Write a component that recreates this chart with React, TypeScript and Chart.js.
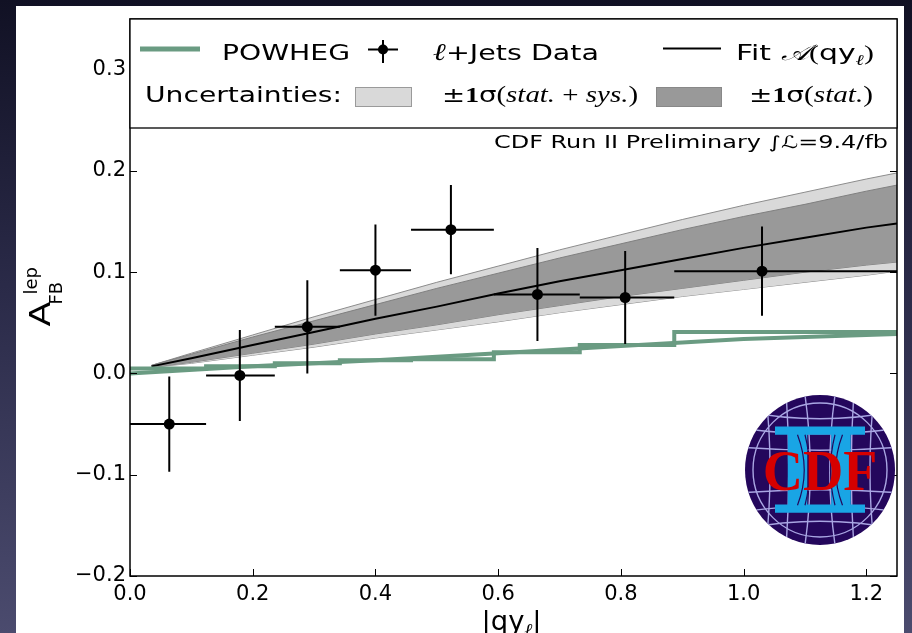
import React, { useEffect, useRef } from 'react';
import { Chart, registerables } from 'chart.js';
Chart.register(...registerables);

// ---------------- data ----------------
const XTICKS = [0, 0.2, 0.4, 0.6, 0.8, 1.0, 1.2];
const YTICKS = [-0.2, -0.1, 0.0, 0.1, 0.2, 0.3];
const BIN_EDGES = [0, 0.124, 0.236, 0.342, 0.458, 0.593, 0.733, 0.887, 1.25];
const DATA_X = [0.064, 0.179, 0.289, 0.4, 0.523, 0.664, 0.807, 1.03];
const DATA_Y = [-0.05, -0.002, 0.046, 0.102, 0.142, 0.078, 0.075, 0.101];
const DATA_ERR = [0.047, 0.045, 0.046, 0.045, 0.044, 0.046, 0.046, 0.044];
const POWHEG_BINS = [0.005, 0.007, 0.01, 0.013, 0.014, 0.021, 0.028, 0.041];
const POWHEG_CURVE_X = [0, 0.2, 0.4, 0.6, 0.8, 1.0, 1.25];
const POWHEG_CURVE_Y = [0.0, 0.007, 0.013, 0.02, 0.027, 0.034, 0.039];
const FIT_X = [0.035, 0.1, 0.2, 0.3, 0.4, 0.5, 0.6, 0.7, 0.8, 0.9, 1.0, 1.1, 1.2, 1.25];
const FIT_Y = [0.007, 0.015, 0.028, 0.041, 0.054, 0.066, 0.079, 0.091, 0.102, 0.113, 0.124, 0.134, 0.144, 0.148];
const STAT_UP = [0.008, 0.019, 0.036, 0.052, 0.068, 0.084, 0.099, 0.114, 0.128, 0.142, 0.155, 0.167, 0.18, 0.186];
const STAT_LO = [0.006, 0.011, 0.02, 0.029, 0.039, 0.048, 0.058, 0.067, 0.076, 0.084, 0.092, 0.1, 0.107, 0.11];
const TOT_UP = [0.008, 0.02, 0.038, 0.056, 0.073, 0.09, 0.106, 0.122, 0.137, 0.152, 0.166, 0.179, 0.192, 0.198];
const TOT_LO = [0.006, 0.01, 0.018, 0.026, 0.035, 0.043, 0.051, 0.06, 0.068, 0.076, 0.083, 0.09, 0.097, 0.101];

const GREEN = '#6a9b82';
const LIGHT = '#d9d9d9';
const DARK = '#999999';
const SANS = '"DejaVu Sans", sans-serif';
const SERIF = '"Liberation Serif", "DejaVu Serif", serif';

type Seg = { t: string; font: string; dy?: number; dx?: number };

function richWidth(ctx: CanvasRenderingContext2D, segs: Seg[]) {
  let w = 0;
  for (const s of segs) {
    ctx.font = s.font;
    w += ctx.measureText(s.t).width + (s.dx || 0);
  }
  return w;
}

function drawRich(ctx: CanvasRenderingContext2D, segs: Seg[], x: number, y: number, targetW?: number, align: string = 'left') {
  const w = richWidth(ctx, segs);
  const sx = targetW ? targetW / w : 1;
  ctx.save();
  ctx.translate(x, y);
  ctx.scale(sx, 1);
  let cx = align === 'center' ? -w / 2 : align === 'right' ? -w : 0;
  ctx.textBaseline = 'alphabetic';
  ctx.textAlign = 'left';
  ctx.fillStyle = '#000';
  for (const s of segs) {
    ctx.font = s.font;
    cx += s.dx || 0;
    ctx.fillText(s.t, cx, s.dy || 0);
    cx += ctx.measureText(s.t).width;
  }
  ctx.restore();
}

function fmt(v: number) {
  return (v < -1e-9 ? '\u2212' : '') + Math.abs(v).toFixed(1);
}

function drawLogo(ctx: CanvasRenderingContext2D, cx: number, cy: number, R: number) {
  ctx.save();
  ctx.beginPath();
  ctx.arc(cx, cy, R, 0, Math.PI * 2);
  ctx.fillStyle = '#24075c';
  ctx.fill();
  ctx.clip();
  ctx.strokeStyle = '#a9a6e3';
  ctx.lineWidth = 1.4;
  ctx.beginPath();
  ctx.arc(cx, cy, R - 8, 0, Math.PI * 2);
  ctx.stroke();
  const hs = [-0.78, -0.55, -0.3, 0.3, 0.55, 0.78];
  for (const d of hs) {
    ctx.beginPath();
    ctx.moveTo(cx - R, cy + d * R);
    ctx.quadraticCurveTo(cx, cy + d * R * 0.75, cx + R, cy + d * R);
    ctx.stroke();
  }
  const vs = [-0.72, -0.45, -0.2, 0.2, 0.45, 0.72];
  for (const d of vs) {
    ctx.beginPath();
    ctx.moveTo(cx + d * R, cy - R);
    ctx.quadraticCurveTo(cx + d * R * (Math.abs(d) < 0.3 ? 0.3 : 0.85), cy, cx + d * R, cy + R);
    ctx.stroke();
  }
  ctx.fillStyle = '#19a5e5';
  ctx.fillRect(cx - 0.6 * R, cy - 0.58 * R, 1.2 * R, 0.11 * R);
  ctx.fillRect(cx - 0.6 * R, cy + 0.46 * R, 1.2 * R, 0.11 * R);
  ctx.fillRect(cx - 0.43 * R, cy - 0.5 * R, 0.26 * R, 1.0 * R);
  ctx.fillRect(cx + 0.15 * R, cy - 0.5 * R, 0.26 * R, 1.0 * R);
  ctx.strokeStyle = '#24075c';
  ctx.lineWidth = 1.2;
  for (const d of [-0.3, -0.2, 0.2, 0.3]) {
    ctx.beginPath();
    ctx.moveTo(cx + d * R, cy - 0.47 * R);
    ctx.quadraticCurveTo(cx + d * R * 0.4, cy, cx + d * R, cy + 0.47 * R);
    ctx.stroke();
  }
  ctx.restore();
  ctx.save();
  ctx.fillStyle = '#d60000';
  ctx.font = 'bold 57px "Liberation Serif", serif';
  const w = ctx.measureText('CDF').width;
  ctx.translate(cx, cy + 0.27 * R);
  ctx.scale((1.53 * R) / w, 1);
  ctx.textAlign = 'center';
  ctx.textBaseline = 'alphabetic';
  ctx.fillText('CDF', 0, 0);
  ctx.restore();
}

const decor = {
  id: 'decor',
  afterDatasetsDraw(chart: any) {
    const { ctx, chartArea: a } = chart;
    const x = chart.scales.x;
    const y = chart.scales.y;
    ctx.save();
    ctx.beginPath();
    ctx.rect(a.left, a.top, a.right - a.left, a.bottom - a.top);
    ctx.clip();
    ctx.strokeStyle = '#000';
    ctx.lineWidth = 2;
    DATA_X.forEach((xv, i) => {
      const px = x.getPixelForValue(xv);
      const py = y.getPixelForValue(DATA_Y[i]);
      ctx.beginPath();
      ctx.moveTo(x.getPixelForValue(BIN_EDGES[i]), py);
      ctx.lineTo(x.getPixelForValue(BIN_EDGES[i + 1]), py);
      ctx.moveTo(px, y.getPixelForValue(DATA_Y[i] - DATA_ERR[i]));
      ctx.lineTo(px, y.getPixelForValue(DATA_Y[i] + DATA_ERR[i]));
      ctx.stroke();
    });
    ctx.restore();
  },
  afterDraw(chart: any) {
    const { ctx, chartArea: a } = chart;
    const x = chart.scales.x;
    const y = chart.scales.y;
    const L = a.left;
    const T = a.top;
    ctx.save();
    // ticks (inward)
    ctx.strokeStyle = '#000';
    ctx.lineWidth = 1;
    for (const v of YTICKS) {
      const py = Math.round(y.getPixelForValue(v)) + 0.5;
      ctx.beginPath();
      ctx.moveTo(a.left, py);
      ctx.lineTo(a.left + 7, py);
      ctx.moveTo(a.right, py);
      ctx.lineTo(a.right - 7, py);
      ctx.stroke();
    }
    for (const v of XTICKS) {
      const px = Math.round(x.getPixelForValue(v)) + 0.5;
      ctx.beginPath();
      ctx.moveTo(px, a.bottom);
      ctx.lineTo(px, a.bottom - 7);
      ctx.stroke();
    }
    // frame
    ctx.lineWidth = 1.5;
    ctx.strokeRect(a.left, a.top, a.right - a.left, a.bottom - a.top);

    // legend box
    ctx.fillStyle = '#fff';
    ctx.fillRect(a.left, T, a.right - a.left, 109);
    ctx.lineWidth = 1.3;
    ctx.strokeStyle = '#000';
    ctx.strokeRect(a.left, T, a.right - a.left, 109);

    const r1 = T + 41;
    const r2 = T + 82.5;
    // POWHEG
    ctx.strokeStyle = GREEN;
    ctx.lineWidth = 5;
    ctx.beginPath();
    ctx.moveTo(L + 10, T + 30);
    ctx.lineTo(L + 70, T + 30);
    ctx.stroke();
    drawRich(ctx, [{ t: 'POWHEG', font: `22px ${SANS}` }], L + 92, r1, 128);
    // data marker
    ctx.strokeStyle = '#000';
    ctx.lineWidth = 2;
    ctx.beginPath();
    ctx.moveTo(L + 238, T + 30.5);
    ctx.lineTo(L + 268, T + 30.5);
    ctx.moveTo(L + 253, T + 21);
    ctx.lineTo(L + 253, T + 44);
    ctx.stroke();
    ctx.fillStyle = '#000';
    ctx.beginPath();
    ctx.arc(L + 253, T + 30.5, 5, 0, Math.PI * 2);
    ctx.fill();
    drawRich(ctx, [
      { t: '\u2113', font: `italic 24px ${SERIF}` },
      { t: '+Jets Data', font: `22px ${SANS}` },
    ], L + 303, r1, 166);
    // fit line
    ctx.strokeStyle = '#000';
    ctx.lineWidth = 2;
    ctx.beginPath();
    ctx.moveTo(L + 533, T + 29.5);
    ctx.lineTo(L + 591, T + 29.5);
    ctx.stroke();
    drawRich(ctx, [
      { t: 'Fit ', font: `22px ${SANS}` },
      { t: '\u{1D49C}', font: `italic 22px ${SERIF}` },
      { t: '(', font: `22px ${SERIF}` },
      { t: 'qy', font: `22px ${SANS}` },
      { t: '\u2113', font: `italic 15px ${SERIF}`, dy: 5 },
      { t: ')', font: `22px ${SERIF}` },
    ], L + 606, r1, 138);
    // row 2
    drawRich(ctx, [{ t: 'Uncertainties:', font: `22px ${SANS}` }], L + 15, r2, 197);
    ctx.fillStyle = LIGHT;
    ctx.fillRect(L + 225, T + 68, 56, 19);
    ctx.strokeStyle = '#9a9a9a';
    ctx.lineWidth = 1;
    ctx.strokeRect(L + 225.5, T + 68.5, 56, 19);
    drawRich(ctx, [
      { t: '\u00B1', font: `22px ${SANS}` },
      { t: '1', font: `bold 22px ${SERIF}` },
      { t: '\u03C3', font: `22px ${SANS}` },
      { t: '(', font: `23px ${SERIF}` },
      { t: 'stat.', font: `italic 23px ${SERIF}` },
      { t: ' + ', font: `23px ${SERIF}` },
      { t: 'sys.', font: `italic 23px ${SERIF}` },
      { t: ')', font: `23px ${SERIF}` },
    ], L + 312, r2, 196);
    ctx.fillStyle = DARK;
    ctx.fillRect(L + 526, T + 68, 65, 19);
    ctx.strokeStyle = '#888';
    ctx.strokeRect(L + 526.5, T + 68.5, 65, 19);
    drawRich(ctx, [
      { t: '\u00B1', font: `22px ${SANS}` },
      { t: '1', font: `bold 22px ${SERIF}` },
      { t: '\u03C3', font: `22px ${SANS}` },
      { t: '(', font: `23px ${SERIF}` },
      { t: 'stat.', font: `italic 23px ${SERIF}` },
      { t: ')', font: `23px ${SERIF}` },
    ], L + 619, r2, 124);

    // CDF label
    drawRich(ctx, [{ t: 'CDF Run II Preliminary \u222B\u2112=9.4/fb', font: `17px ${SANS}` }], a.right - 9, T + 129, 394, 'right');

    // logo
    drawLogo(ctx, a.right - 77, a.bottom - 106, 75);

    // y label (rotated)
    const cy = (a.top + a.bottom) / 2;
    ctx.save();
    ctx.translate(50, cy + 29);
    ctx.rotate(-Math.PI / 2);
    ctx.fillStyle = '#000';
    ctx.textBaseline = 'alphabetic';
    ctx.font = `28px ${SANS}`;
    const aw = ctx.measureText('A').width;
    ctx.save();
    ctx.scale(25 / aw, 1);
    ctx.fillText('A', 0, 0);
    ctx.restore();
    ctx.font = `18px ${SANS}`;
    ctx.fillText('FB', 22, 12);
    ctx.fillText('lep', 32, -13);
    ctx.restore();

    // x label
    drawRich(ctx, [
      { t: '|qy', font: `26px ${SANS}` },
      { t: '\u2113', font: `italic 18px ${SERIF}`, dy: 6 },
      { t: '|', font: `26px ${SANS}` },
    ], (a.left + a.right) / 2 - 2, 630, 60, 'center');
    ctx.restore();
  },
};

export default function App() {
  const ref = useRef<HTMLCanvasElement>(null);
  useEffect(() => {
    const pts = (xs: number[], ys: number[]) => xs.map((x, i) => ({ x, y: ys[i] }));
    const stepPts = BIN_EDGES.map((x, i) => ({ x, y: POWHEG_BINS[Math.min(i, POWHEG_BINS.length - 1)] }));
    const band = (data: any, fill: any, bg: string, border: string) => ({
      type: 'line',
      data,
      fill,
      backgroundColor: bg,
      borderColor: border,
      borderWidth: 1,
      pointRadius: 0,
      tension: 0,
      clip: 0,
    });
    const chart = new Chart(ref.current as HTMLCanvasElement, {
      type: 'scatter',
      data: {
        datasets: [
          {
            type: 'scatter',
            data: pts(DATA_X, DATA_Y),
            pointRadius: 5.5,
            backgroundColor: '#000',
            borderWidth: 0,
            clip: 0,
          } as any,
          {
            type: 'line',
            data: stepPts,
            stepped: true,
            borderColor: GREEN,
            borderWidth: 4,
            pointRadius: 0,
            fill: false,
            clip: 0,
          } as any,
          {
            type: 'line',
            data: pts(POWHEG_CURVE_X, POWHEG_CURVE_Y),
            borderColor: GREEN,
            borderWidth: 4,
            pointRadius: 0,
            fill: false,
            clip: 0,
          } as any,
          {
            type: 'line',
            data: pts(FIT_X, FIT_Y),
            borderColor: '#000',
            borderWidth: 2,
            pointRadius: 0,
            fill: false,
            clip: 0,
          } as any,
          band(pts(FIT_X, STAT_UP), '+1', DARK, '#808080') as any,
          band(pts(FIT_X, STAT_LO), false, DARK, '#808080') as any,
          band(pts(FIT_X, TOT_UP), '+1', LIGHT, '#8c8c8c') as any,
          band(pts(FIT_X, TOT_LO), false, LIGHT, '#8c8c8c') as any,
        ],
      },
      options: {
        responsive: false,
        animation: false,
        devicePixelRatio: 1,
        layout: { padding: { top: 19, right: 15, left: 0, bottom: 0 } },
        plugins: { legend: { display: false }, tooltip: { enabled: false } },
        scales: {
          x: {
            type: 'linear',
            min: 0,
            max: 1.25,
            afterBuildTicks: (s: any) => {
              s.ticks = XTICKS.map((v) => ({ value: v }));
            },
            afterFit: (s: any) => {
              s.height = 57;
            },
            grid: { display: false, drawTicks: false },
            border: { display: false },
            ticks: {
              color: '#000',
              font: { family: 'DejaVu Sans', size: 21 },
              padding: 6,
              maxRotation: 0,
              autoSkip: false,
              callback: (v: any) => fmt(Number(v)),
            },
          },
          y: {
            type: 'linear',
            min: -0.2,
            max: 0.35,
            afterBuildTicks: (s: any) => {
              s.ticks = YTICKS.map((v) => ({ value: v }));
            },
            afterFit: (s: any) => {
              s.width = 130;
            },
            grid: { display: false, drawTicks: false },
            border: { display: false },
            ticks: {
              color: '#000',
              font: { family: 'DejaVu Sans', size: 21 },
              padding: 4,
              autoSkip: false,
              callback: (v: any) => fmt(Number(v)),
            },
          },
        },
      } as any,
      plugins: [decor],
    });
    return () => chart.destroy();
  }, []);
  return (
    <div
      style={{
        position: 'fixed',
        left: 0,
        top: 0,
        width: 912,
        height: 633,
        overflow: 'hidden',
        background: 'linear-gradient(180deg, #111124 0%, #2a2a48 45%, #4b4b6e 100%)',
      }}
    >
      <div style={{ position: 'absolute', left: 16, top: 6, width: 888, height: 627, background: '#fff' }} />
      <canvas
        ref={ref}
        width={912}
        height={633}
        style={{ position: 'absolute', left: 0, top: 0, width: 912, height: 633 }}
      />
    </div>
  );
}
